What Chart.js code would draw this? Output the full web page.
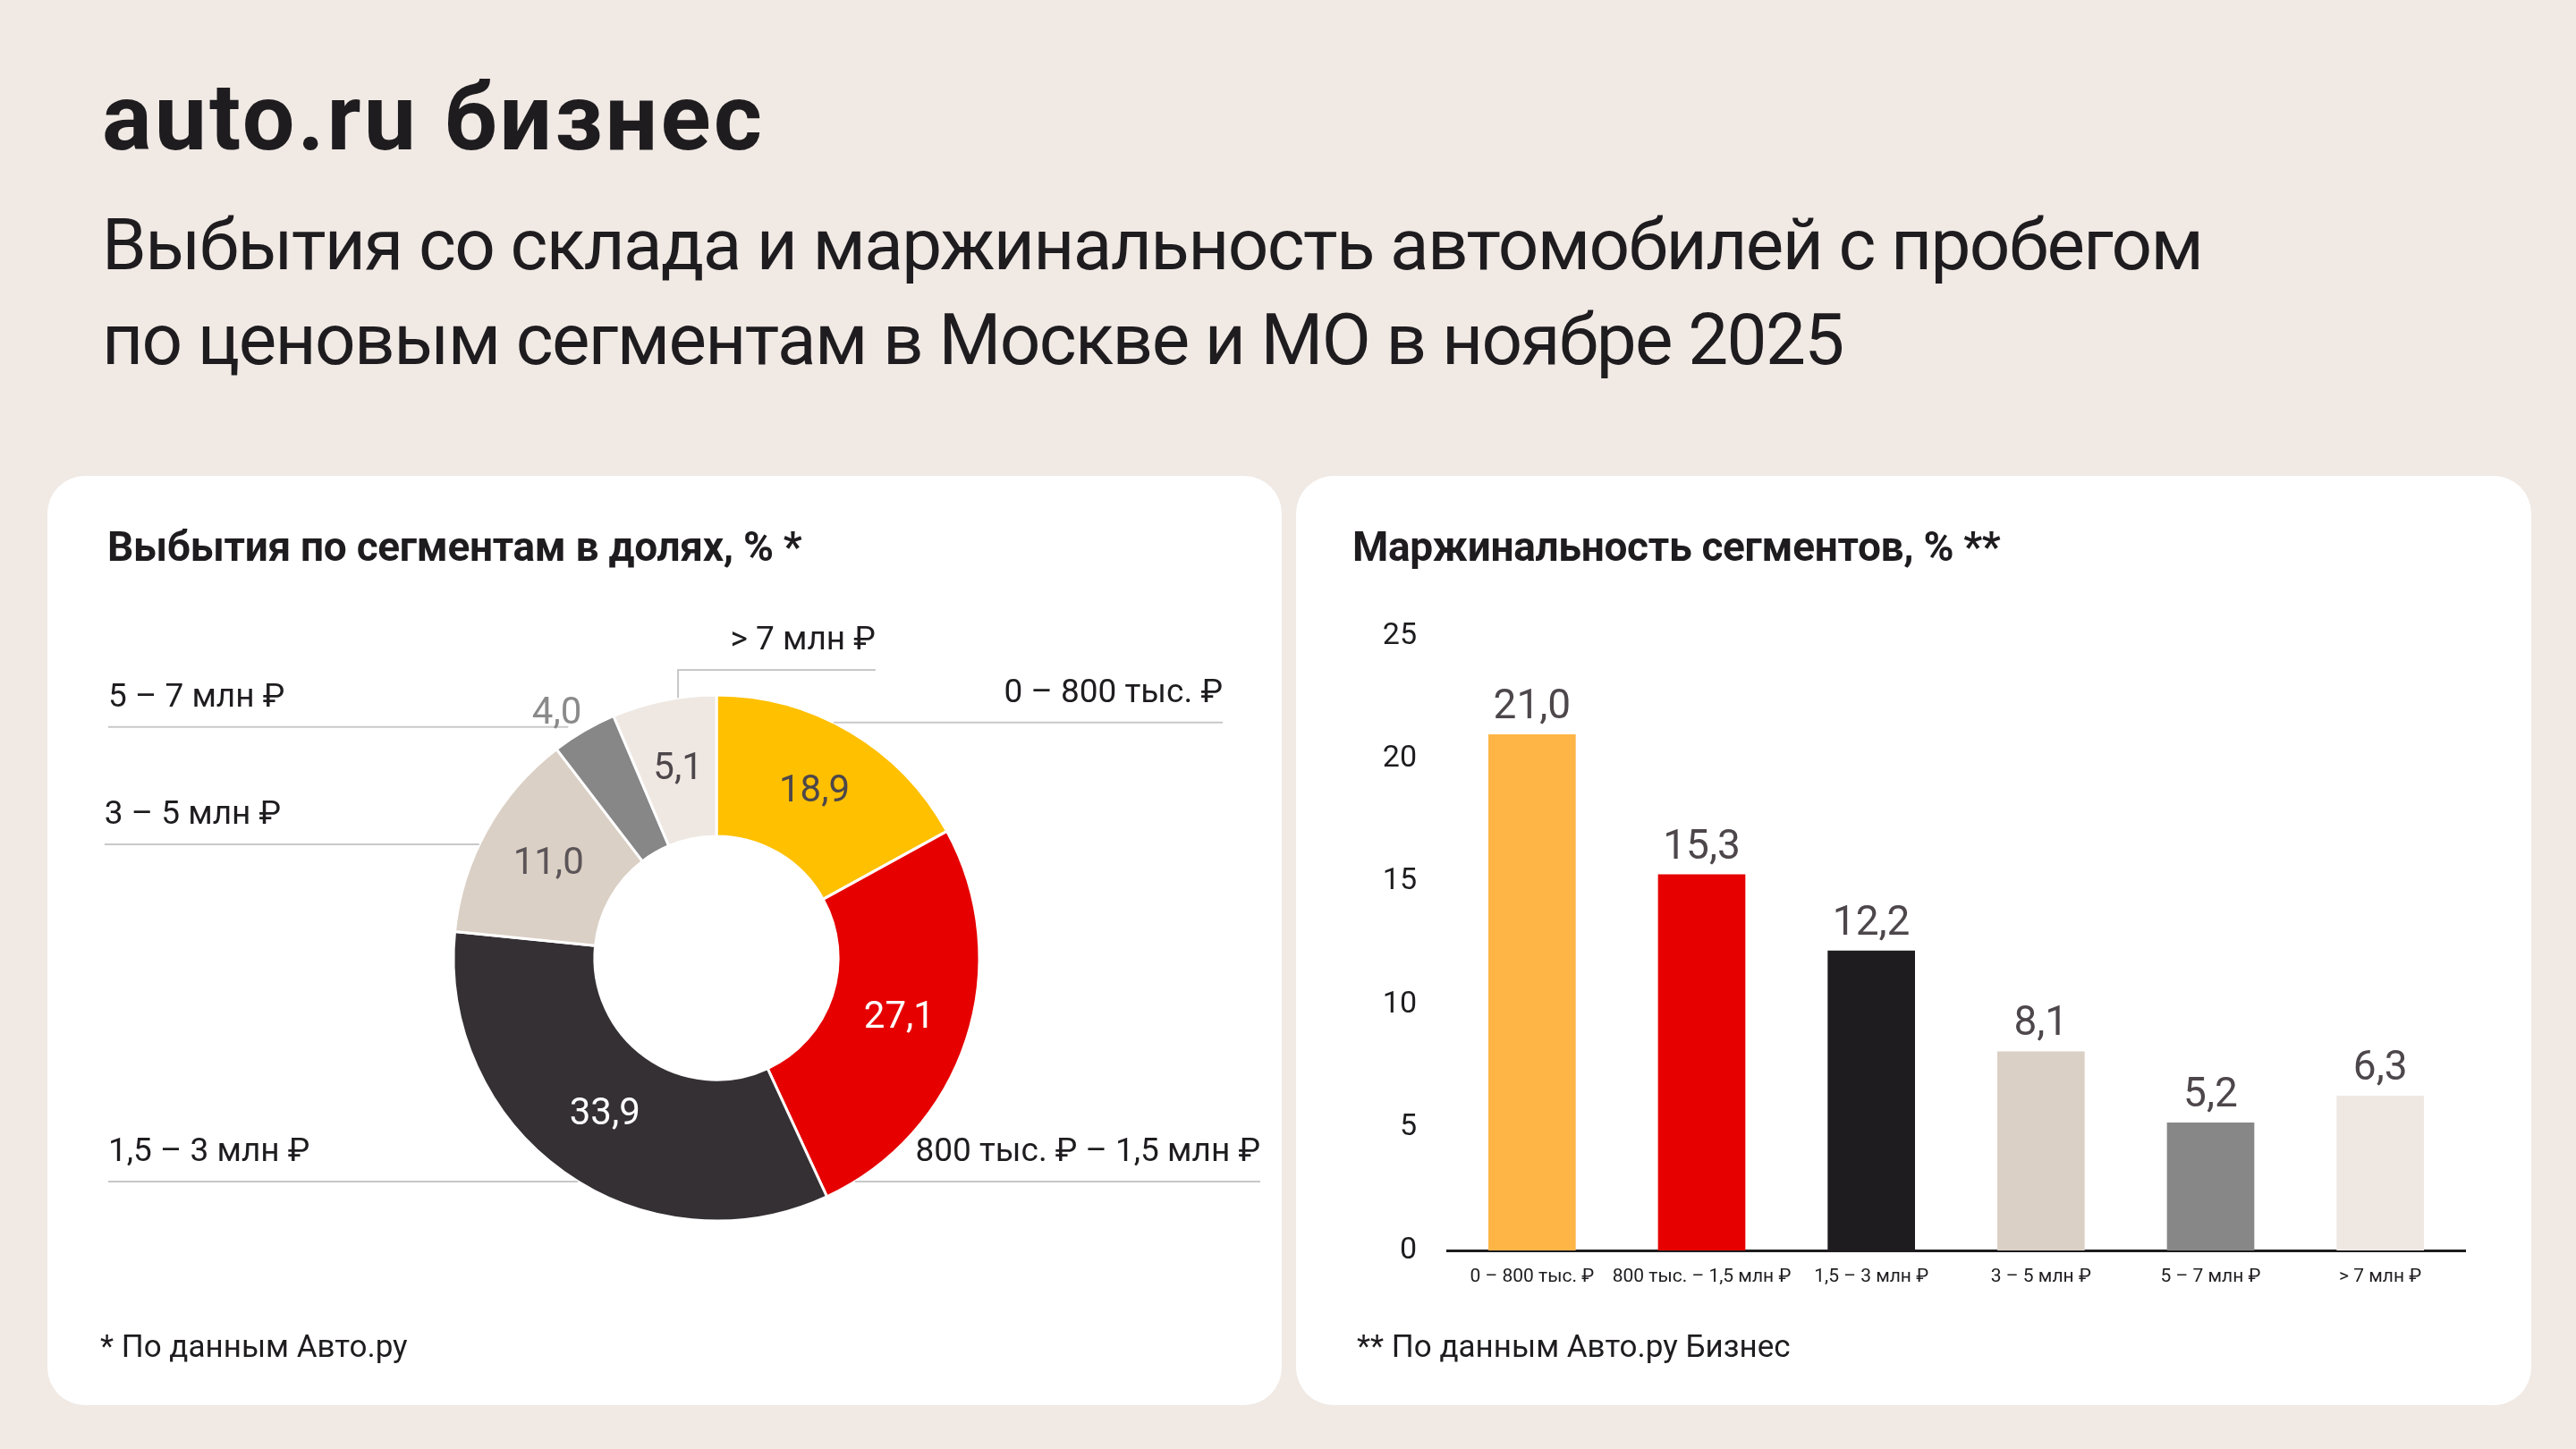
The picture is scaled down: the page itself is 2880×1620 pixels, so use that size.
<!DOCTYPE html>
<html lang="ru">
<head>
<meta charset="utf-8">
<script src="https://cdn.jsdelivr.net/npm/chart.js@4.4.1/dist/chart.umd.min.js"></script>
<style>
html,body{margin:0;padding:0;}
body{width:2880px;height:1620px;background:#F0E9E4;position:relative;overflow:hidden;font-family:Roboto,'Noto Sans',sans-serif;color:#1E1C1F;}
.abs{position:absolute;white-space:nowrap;line-height:1;}
#logo{left:114px;top:80px;font-size:104px;font-weight:700;letter-spacing:3px;}
#title{left:114px;top:221px;font-size:80px;line-height:106px;font-weight:400;letter-spacing:-1.6px;}
.card{position:absolute;top:532px;width:1380px;height:1039px;background:#fff;border-radius:42px;overflow:hidden;}
#cardL{left:53px;}
#cardR{left:1449px;width:1381px;}
.card canvas{position:absolute;left:0;top:0;}
.ctitle{position:absolute;top:56px;font-size:46px;font-weight:700;white-space:nowrap;line-height:1;letter-spacing:-0.3px;}
.foot{position:absolute;top:956px;font-size:35px;white-space:nowrap;line-height:1;}
</style>
</head>
<body>
<div id="logo" class="abs">auto.ru бизнес</div>
<div id="title" class="abs">Выбытия со склада и маржинальность автомобилей с пробегом<br>по ценовым сегментам в Москве и МО в ноябре 2025</div>

<div id="cardL" class="card">
  <canvas id="donut" width="1380" height="1039"></canvas>
  <div class="ctitle" style="left:67px;">Выбытия по сегментам в долях, % *</div>
  <div class="foot" style="left:59px;">* По данным Авто.ру</div>
</div>
<div id="cardR" class="card">
  <canvas id="bars" width="1381" height="1039"></canvas>
  <div class="ctitle" style="left:63px;">Маржинальность сегментов, % **</div>
  <div class="foot" style="left:68px;">** По данным Авто.ру Бизнес</div>
</div>

<script>
// ---- data ----
const shareLabels = ['0 – 800 тыс. ₽', '800 тыс. ₽ – 1,5 млн ₽', '1,5 – 3 млн ₽', '3 – 5 млн ₽', '5 – 7 млн ₽', '> 7 млн ₽'];
// shares as printed on the slices
const shareValues = [18.9, 27.1, 33.9, 11.0, 4.0, 5.1];
const shareArcs = [17.0, 26.1, 33.5, 13.0, 4.0, 6.4];
const marginLabels = ['0 – 800 тыс. ₽', '800 тыс. – 1,5 млн ₽', '1,5 – 3 млн ₽', '3 – 5 млн ₽', '5 – 7 млн ₽', '> 7 млн ₽'];
const marginValues = [21.0, 15.3, 12.2, 8.1, 5.2, 6.3];
const yTickValues = [0, 5, 10, 15, 20, 25];

// ---- styles ----
const donutColors = ['#FFC000', '#E60000', '#353034', '#DBD0C5', '#878787', '#EFE8E2'];
const donutTextColors = ['#4D474B', '#FFFFFF', '#FFFFFF', '#5B5458', '#8A8A8A', '#4D474B'];
const barColors = ['#FFB446', '#E60000', '#1E1C1F', '#DBD0C5', '#878787', '#EFE8E2'];
// leader line layout, in units of the outer radius
const leaders = [
  {side: 'right', dy: -0.895, edge: 1.925},
  {side: 'right', dy: 0.85, edge: 2.068},
  {side: 'left', dy: 0.85, edge: -2.313},
  {side: 'left', dy: -0.432, edge: -2.327},
  {side: 'left', dy: -0.878, edge: -2.313, gap: 25, outsideValue: true},
  {side: 'top', dy: -1.095, x0: -0.146, edge: 0.605}
];

Chart.defaults.font.family = 'Roboto, "Noto Sans", sans-serif';
Chart.defaults.color = '#1E1C1F';

const fmt = v => v.toFixed(1).replace('.', ',');

const donutLabels = {
  id: 'donutLabels',
  afterDatasetsDraw(chart) {
    const ctx = chart.ctx;
    const meta = chart.getDatasetMeta(0);
    const a0 = meta.data[0];
    const cx = a0.x, cy = a0.y, R = a0.outerRadius;
    ctx.save();
    meta.data.forEach((arc, i) => {
      const L = leaders[i];
      const y = cy + L.dy * R;
      ctx.strokeStyle = '#C8C8C8';
      ctx.lineWidth = 2;
      ctx.beginPath();
      let lineEnd;
      if (L.side === 'top') {
        const xa = cx + L.x0 * R;
        const yc = cy - Math.sqrt(R * R - (L.x0 * R) ** 2);
        ctx.moveTo(xa, yc);
        ctx.lineTo(xa, y);
        ctx.lineTo(cx + L.edge * R, y);
      } else {
        const dx = Math.sqrt(R * R - (L.dy * R) ** 2);
        if (L.side === 'right') {
          ctx.moveTo(cx + dx, y);
          ctx.lineTo(cx + L.edge * R, y);
        } else {
          lineEnd = cx - dx - (L.gap || 0);
          ctx.moveTo(cx + L.edge * R, y);
          ctx.lineTo(lineEnd, y);
        }
      }
      ctx.stroke();
      // category label
      ctx.fillStyle = '#1E1C1F';
      ctx.font = '37px Roboto, "Noto Sans", sans-serif';
      ctx.textBaseline = 'alphabetic';
      ctx.textAlign = (L.side === 'left') ? 'left' : 'right';
      ctx.fillText(chart.data.labels[i], cx + L.edge * R, y - 23);
      // value label
      const v = fmt(shareValues[i]);
      ctx.fillStyle = donutTextColors[i];
      ctx.font = '42px Roboto, "Noto Sans", sans-serif';
      if (L.outsideValue) {
        ctx.textAlign = 'right';
        ctx.textBaseline = 'alphabetic';
        ctx.fillText(v, lineEnd + 15, y - 4);
      } else {
        const p = arc.tooltipPosition();
        ctx.textAlign = 'center';
        ctx.textBaseline = 'middle';
        ctx.fillText(v, p.x, p.y);
      }
    });
    ctx.restore();
  }
};

new Chart(document.getElementById('donut'), {
  type: 'doughnut',
  data: {
    labels: shareLabels,
    datasets: [{
      data: shareArcs,
      backgroundColor: donutColors,
      borderColor: '#FFFFFF',
      borderWidth: 3
    }]
  },
  options: {
    responsive: false,
    devicePixelRatio: 1,
    animation: false,
    events: [],
    cutout: '46.3%',
    layout: {padding: {left: 452.5, right: 336.5, top: 243.5, bottom: 204.5}},
    plugins: {legend: {display: false}, tooltip: {enabled: false}}
  },
  plugins: [donutLabels]
});

const barValueLabels = {
  id: 'barValueLabels',
  afterDatasetsDraw(chart) {
    const ctx = chart.ctx;
    const meta = chart.getDatasetMeta(0);
    ctx.save();
    ctx.fillStyle = '#4D474B';
    ctx.font = '46px Roboto, "Noto Sans", sans-serif';
    ctx.textAlign = 'center';
    ctx.textBaseline = 'alphabetic';
    meta.data.forEach((bar, i) => {
      ctx.fillText(fmt(chart.data.datasets[0].data[i]), bar.x, bar.y - 18);
    });
    ctx.restore();
  }
};

new Chart(document.getElementById('bars'), {
  type: 'bar',
  data: {
    labels: marginLabels,
    datasets: [{
      data: marginValues,
      backgroundColor: barColors,
      borderWidth: 0,
      barPercentage: 0.515,
      categoryPercentage: 1
    }]
  },
  options: {
    responsive: false,
    devicePixelRatio: 1,
    animation: false,
    events: [],
    layout: {padding: {left: 0, right: 74, top: 179, bottom: 0}},
    plugins: {legend: {display: false}, tooltip: {enabled: false}},
    scales: {
      x: {
        grid: {display: false, drawTicks: false},
        border: {display: true, color: '#1E1C1F', width: 3},
        ticks: {font: {size: 21}, color: '#1E1C1F', padding: 17, maxRotation: 0, autoSkip: false},
        afterFit(scale) { scale.height = 173; }
      },
      y: {
        min: yTickValues[0],
        max: yTickValues[yTickValues.length - 1],
        grid: {display: false, drawTicks: false},
        border: {display: false},
        afterBuildTicks(scale) { scale.ticks = yTickValues.map(v => ({value: v})); },
        ticks: {font: {size: 34}, color: '#1E1C1F', padding: 34},
        afterFit(scale) { scale.width = 169; }
      }
    }
  },
  plugins: [barValueLabels]
});
</script>
</body>
</html>
